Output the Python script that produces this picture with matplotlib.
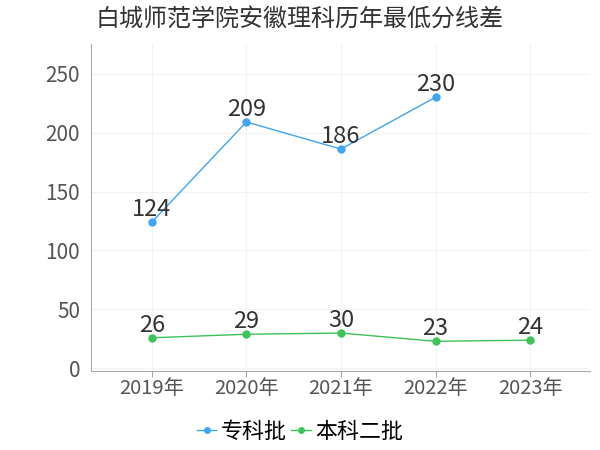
import numpy as np
import matplotlib
matplotlib.use('Agg')
import matplotlib.pyplot as plt

plt.rcParams['font.family'] = ['Noto Sans CJK SC', 'DejaVu Sans']

years = ['2019年', '2020年', '2021年', '2022年', '2023年']
zhuanke = [124, 209, 186, 230, None]
benke2 = [26, 29, 30, 23, 24]

blue = '#3fa5f5'
green = '#3dc35a'

fig = plt.figure(figsize=(6, 4.5), dpi=100)
ax = fig.add_axes([0.152, 0.176, 0.831, 0.726])

x = np.arange(len(years))
zk = np.array([np.nan if v is None else v for v in zhuanke], dtype=float)
ax.plot(x, zk, color=blue, lw=1, marker='o', ms=5, label='专科批')
ax.plot(x, benke2, color=green, lw=1, marker='o', ms=5, label='本科二批')

for xi, v in zip(x, zhuanke):
    if v is not None:
        ax.text(xi, v + 1, str(v), ha='center', va='bottom', fontsize=17, color='#333333')
for xi, v in zip(x, benke2):
    ax.text(xi, v + 1, str(v), ha='center', va='bottom', fontsize=17, color='#333333')

ax.set_xlim(-0.64, 4.63)
ax.set_ylim(-2, 275)
ax.set_xticks(x)
ax.set_xticklabels(years)
ax.set_yticks([0, 50, 100, 150, 200, 250])
ax.tick_params(axis='x', labelsize=14.5, colors='#aaaaaa', labelcolor='#555555', length=4, pad=1)
ax.tick_params(axis='y', labelsize=15, labelcolor='#555555', length=0, pad=8)
ax.grid(True, color='#f2f2f2', lw=0.8)
ax.set_axisbelow(True)
for s in ['top', 'right']:
    ax.spines[s].set_visible(False)
ax.spines['left'].set_color('#aaaaaa')
ax.spines['bottom'].set_color('#aaaaaa')

fig.text(0.5, 0.958, '白城师范学院安徽理科历年最低分线差', ha='center', va='center', fontsize=17.3, color='#333333')
fig.legend(loc='center', bbox_to_anchor=(0.5, 0.04), ncol=2, frameon=False, fontsize=15.8,
           handlelength=0.9, handletextpad=0.2, columnspacing=0.2, markerscale=0.8)

fig.savefig('out.png', dpi=100)
